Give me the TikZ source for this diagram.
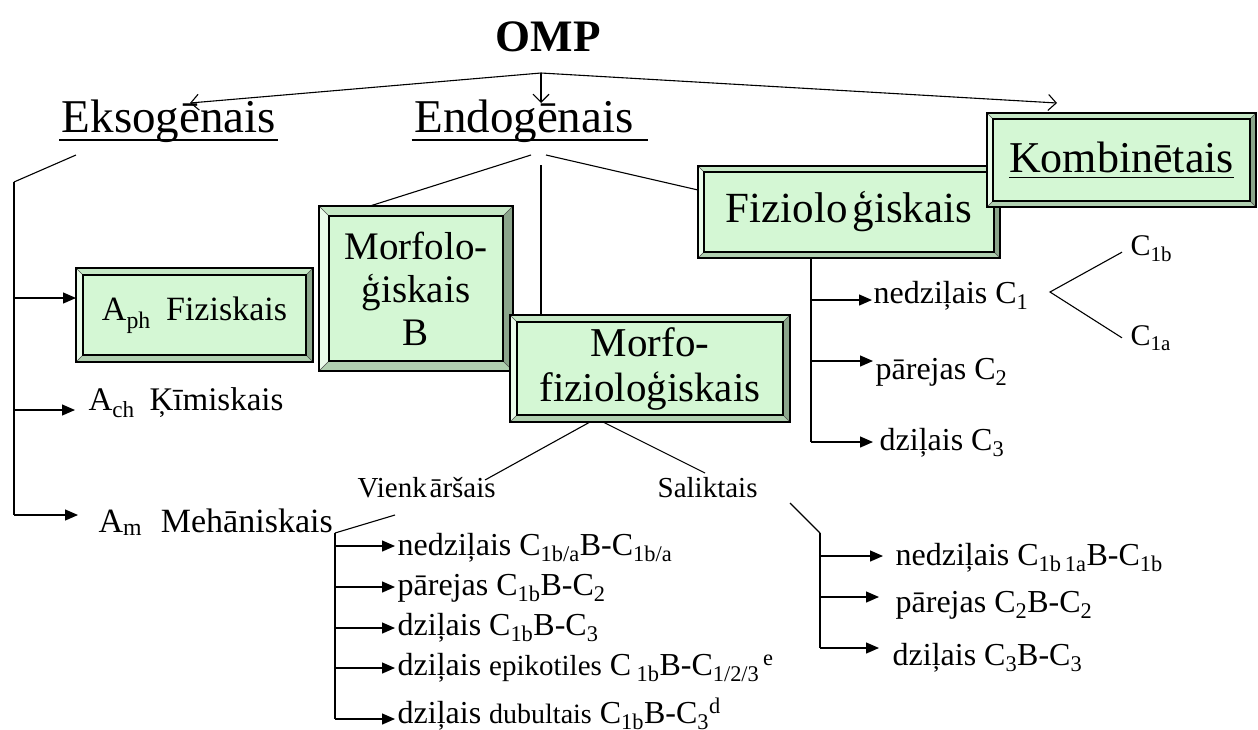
\documentclass[tikz,border=0pt]{standalone}
\usepackage{fontspec}
\setmainfont{Liberation Serif}
\usetikzlibrary{arrows.meta}
\definecolor{bxfill}{HTML}{D4F7D4}
\definecolor{bvleft}{HTML}{EAFBEA}
\definecolor{bvtop}{HTML}{C6E8C6}
\definecolor{bvright}{HTML}{8BA58B}
\definecolor{bvbot}{HTML}{B0CFB0}
\newcommand\myul[1]{\setbox0\hbox{#1}\rlap{\rule[-6pt]{\wd0}{1.3pt}}\box0}
\tikzset{
  bev/.style={draw=black, line width=1.2pt, fill=bxfill, inner sep=0pt, outer sep=0pt, align=center,
    path picture={
      \coordinate (bnw) at (path picture bounding box.north west);
      \coordinate (bne) at (path picture bounding box.north east);
      \coordinate (bse) at (path picture bounding box.south east);
      \coordinate (bsw) at (path picture bounding box.south west);
      \coordinate (inw) at ([shift={(#1,-#1)}]bnw);
      \coordinate (ine) at ([shift={(-#1,-#1)}]bne);
      \coordinate (ise) at ([shift={(-#1,#1)}]bse);
      \coordinate (isw) at ([shift={(#1,#1)}]bsw);
      \fill[bvtop] (bnw) -- (bne) -- (ine) -- (inw) -- cycle;
      \fill[bvleft] (bnw) -- (inw) -- (isw) -- (bsw) -- cycle;
      \fill[bvright] (bne) -- (bse) -- (ise) -- (ine) -- cycle;
      \fill[bvbot] (bsw) -- (isw) -- (ise) -- (bse) -- cycle;
      \draw[line width=0.6pt, black!70] (bnw) -- (inw) (bne) -- (ine) (bse) -- (ise) (bsw) -- (isw);
      \draw[line width=1.1pt] (inw) rectangle (ise);
    }},
  bev/.default=7pt,
  arr/.style={-{Triangle[length=13pt,width=11pt]}},
  oarr/.style={-{Straight Barb[length=8pt,width=16pt]}},
  big/.style={font=\fontsize{47}{50}\selectfont, inner sep=0pt, anchor=base},
  med/.style={font=\fontsize{32}{36}\selectfont, inner sep=0pt, anchor=base west},
  sml/.style={font=\fontsize{29}{32}\selectfont, inner sep=0pt, anchor=base west},
  ul/.style={line width=1.3pt},
  thinl/.style={line width=1.1pt}
}
\begin{document}
\begin{tikzpicture}[x=1pt,y=-1pt, line width=1.3pt]
\useasboundingbox (0,0) rectangle (1258,729);
% title
\node[font=\bfseries\fontsize{45}{48}\selectfont, inner sep=0pt, anchor=base] (omp) at (548,51) {OMP};
\node[big] (eks) at (169,132) {Eksogēnais};
\node[big] (endo) at (524,132) {Endogēnais};
\draw[ul] ([shift={(-2pt,-8pt)}]eks.base west) -- ([shift={(1pt,-8pt)}]eks.base east);
\draw[ul] ([shift={(-2pt,-8pt)}]endo.base west) -- ([shift={(14pt,-8pt)}]endo.base east);
\coordinate (j) at (541,73);
\coordinate (eksin) at (190,103);
\coordinate (endoin) at (541,103);
\coordinate (kombin) at (1057,103);
\draw[oarr, thinl] (j) -- (eksin);
\draw[oarr, thinl] (j) -- (endoin);
\draw[oarr, thinl] (j) -- (kombin);
% boxes
\node[bev=7pt, minimum width=237pt, minimum height=94pt, font=\fontsize{34}{36}\selectfont] (aph) at (194.5,315) {A\textsubscript{ph}\hspace{0.45em}Fiziskais};
\node[bev=10pt, minimum width=194pt, minimum height=165pt, font=\fontsize{39}{43}\selectfont] (mfl) at (416,288.5) {Morfolo-\\ģiskais\\B};
\node[bev=7pt, minimum width=280pt, minimum height=107pt, font=\fontsize{41}{45}\selectfont] (mfz) at (650,368.5) {Morfo-\\fizioloģiskais};
\node[bev=6pt, minimum width=302pt, minimum height=92pt, font=\fontsize{43}{45}\selectfont] (fiz) at (849,212) {Fiziolo\hspace{0.12em}ģiskais};
\node[bev=6pt, minimum width=269pt, minimum height=94pt, font=\fontsize{44}{46}\selectfont] (kom) at (1121.5,160) {\myul{Kombinētais}};
% Eksogenais tree
\coordinate (e1) at (76,155);
\coordinate (e2) at (14,182);
\coordinate (e3) at (14,515);
\draw[thinl] (e1) -- (e2);
\draw (e2) -- (e3);
\coordinate (a1) at (14,298);
\coordinate (a2) at (14,410);
\node[med, font=\fontsize{33}{36}\selectfont] (ach) at (88,410) {A\textsubscript{ch}\hspace{0.45em}Ķīmiskais};
\node[med, font=\fontsize{34}{36}\selectfont] (am) at (98,532) {A\textsubscript{m}\hspace{0.55em}Mehāniskais};
\draw[arr] (a1) -- (aph.west |- a1);
\draw[arr] (a2) -- ([xshift=-13pt]ach.west |- a2);
\draw[arr] (e3) -- ([xshift=-20pt]am.west |- e3);
% Endogenais tree
\coordinate (dL) at (531,155);
\coordinate (dM) at (541,165);
\coordinate (dR) at (546,155);
\draw[thinl] (dL) -- ([xshift=51pt]mfl.north west);
\draw (dM) -- (dM |- mfz.north);
\draw[thinl] (dR) -- ([yshift=22pt]fiz.west);
% Fiziologiskais tree
\coordinate (f0) at ([xshift=113pt]fiz.south west);
\coordinate (f1) at (811,300);
\coordinate (f2) at (811,361);
\coordinate (f3) at (811,442);
\draw (f0) -- (f3);
\node[med] (fn) at (873,303) {nedziļais C\textsubscript{1}};
\node[med] (fp) at (875,379) {pārejas C\textsubscript{2}};
\node[med] (fd) at (879,450) {dziļais C\textsubscript{3}};
\draw[arr] (f1) -- ([xshift=-1pt]fn.west |- f1);
\draw[arr] (f2) -- ([xshift=-2pt]fp.west |- f2);
\draw[arr] (f3) -- ([xshift=-6pt]fd.west |- f3);
\node[sml, font=\fontsize{30}{32}\selectfont] (c1b) at (1130,255) {C\textsubscript{1b}};
\node[sml, font=\fontsize{30}{32}\selectfont] (c1a) at (1130,345) {C\textsubscript{1a}};
\coordinate (lt) at (1050,292);
\draw[thinl] ([shift={(-8pt,-4pt)}]c1b.west) -- (lt) -- ([xshift=-8pt]c1a.west);
% Morfo-fiziologiskais tree
\node[sml] (vien) at (357,497) {Vienk\hspace{0.1em}āršais};
\node[sml] (sal) at (657,497) {Saliktais};
\coordinate (vt) at (485,480);
\coordinate (st) at (705,473);
\draw[thinl] ([xshift=80pt]mfz.south west) -- (vt);
\draw[thinl] ([xshift=93pt]mfz.south west) -- (st);
% Vienkarsais list
\coordinate (v0) at (395,515);
\coordinate (v1) at (335,533);
\coordinate (v2) at (335,719);
\draw[thinl] (v0) -- (v1);
\draw (v1) -- (v2);
\coordinate (w1) at (335,546);
\coordinate (w2) at (335,587);
\coordinate (w3) at (335,628);
\coordinate (w4) at (335,668);
\node[med] (l1) at (397,555) {nedziļais C\textsubscript{1b/a}B-C\textsubscript{1b/a}};
\node[med] (l2) at (397,595) {pārejas C\textsubscript{1b}B-C\textsubscript{2}};
\node[med] (l3) at (397,635) {dziļais C\textsubscript{1b}B-C\textsubscript{3}};
\node[med] (l4) at (397,675) {dziļais {\fontsize{29}{32}\selectfont epikotiles} C\,\textsubscript{1b}B-C\textsubscript{1/2/3}\textsuperscript{\,e}};
\node[med] (l5) at (397,723) {dziļais {\fontsize{28}{32}\selectfont dubultais} C\textsubscript{1b}B-C\textsubscript{3}\textsuperscript{d}};
\draw[arr] (w1) -- ([xshift=-2pt]l1.west |- w1);
\draw[arr] (w2) -- ([xshift=-2pt]l2.west |- w2);
\draw[arr] (w3) -- ([xshift=-2pt]l3.west |- w3);
\draw[arr] (w4) -- ([xshift=-2pt]l4.west |- w4);
\draw[arr] (v2) -- ([xshift=-2pt]l5.west |- v2);
% Saliktais list
\coordinate (s0) at (790,503);
\coordinate (s1) at (820,533);
\coordinate (s2) at (820,648);
\draw[thinl] (s0) -- (s1);
\draw (s1) -- (s2);
\coordinate (t1) at (820,556);
\coordinate (t2) at (820,597);
\node[med] (r1) at (895,565) {nedziļais C\textsubscript{1b\,1a}B-C\textsubscript{1b}};
\node[med] (r2) at (895,612) {pārejas C\textsubscript{2}B-C\textsubscript{2}};
\node[med] (r3) at (892,665) {dziļais C\textsubscript{3}B-C\textsubscript{3}};
\draw[arr] (t1) -- ([xshift=-12pt]r1.west |- t1);
\draw[arr] (t2) -- ([xshift=-16pt]r2.west |- t2);
\draw[arr] (s2) -- ([xshift=-13pt]r3.west |- s2);
\end{tikzpicture}
\end{document}
